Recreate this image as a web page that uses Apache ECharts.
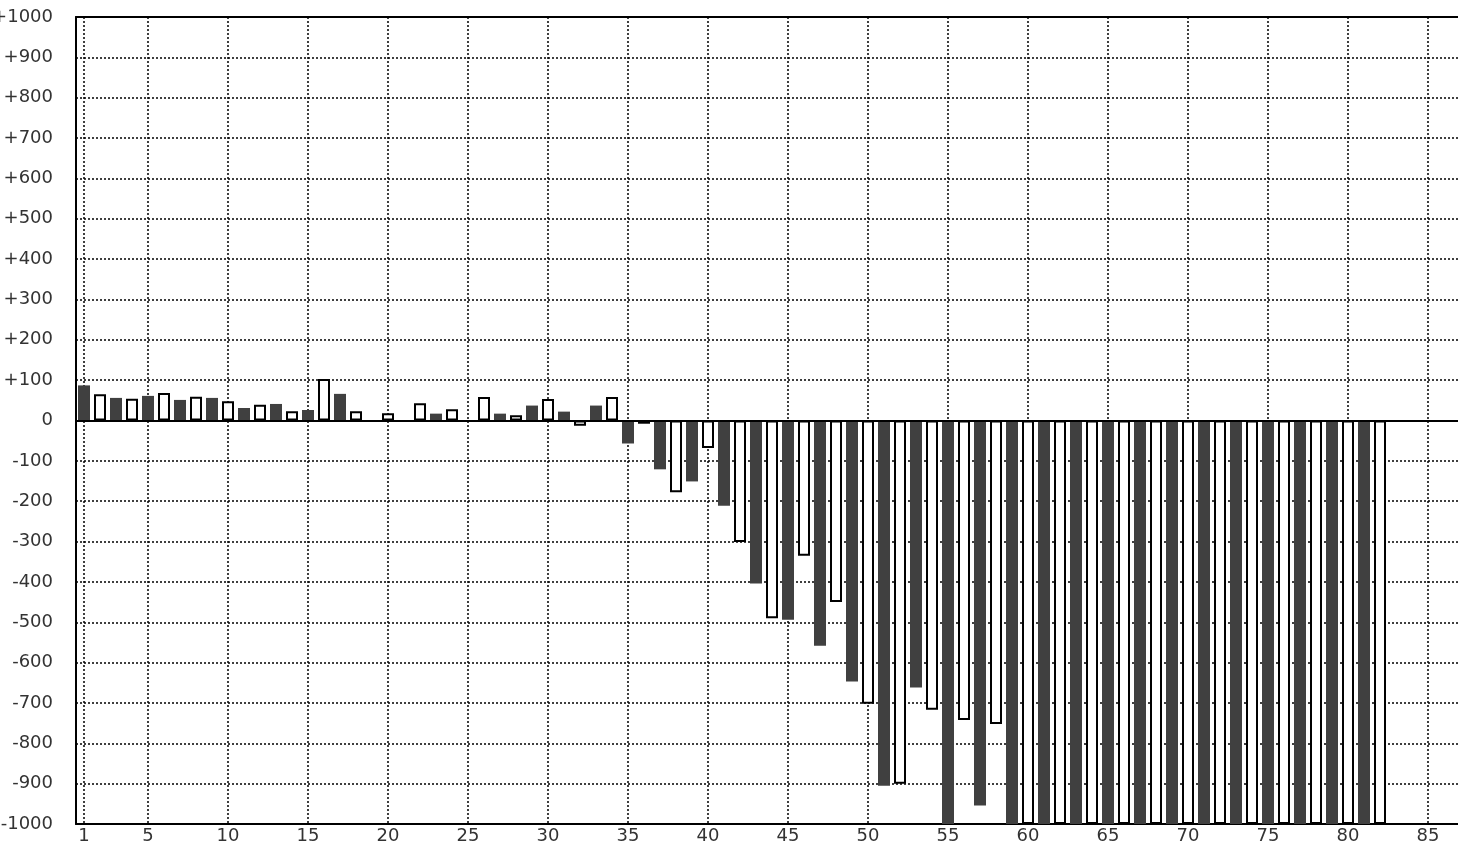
<!DOCTYPE html>
<html>
<head>
<meta charset="utf-8">
<style>
html,body{margin:0;padding:0;background:#fff;}
#chart{width:1458px;height:844px;}
</style>
<script src="https://cdn.jsdelivr.net/npm/echarts@6/dist/echarts.min.js"></script>
</head>
<body>
<div id="chart"></div>
<script>
// x positions are 1..82 (index + 1)
var values = [
  87, 65, 56, 54, 61, 68, 51, 59, 56, 48,
  31, 39, 41, 23, 26, 103, 66, 23, 0, 18,
  0, 43, 17, 28, 0, 58, 17, 13, 37, 53,
  22, -13, 37, 58, -57, -8, -121, -178, -151, -68,
  -211, -301, -404, -490, -494, -335, -558, -450, -647, -702,
  -905, -900, -662, -717, -1000, -742, -954, -752, -1000, -1000,
  -1000, -1000, -1000, -1000, -1000, -1000, -1000, -1000, -1000, -1000,
  -1000, -1000, -1000, -1000, -1000, -1000, -1000, -1000, -1000, -1000,
  -1000, -1000
];
var xTicks = [1, 5, 10, 15, 20, 25, 30, 35, 40, 45, 50, 55, 60, 65, 70, 75, 80, 85];

var FONT = 'DejaVu Sans';
var data = values.map(function (v, i) {
  var x = i + 1;
  var dark = (x % 2 === 1);
  return {
    value: [x, v],
    itemStyle: dark
      ? { color: '#404040', borderWidth: 0 }
      : { color: '#ffffff', borderColor: '#000000', borderWidth: 2 }
  };
});

var dotted = { show: true, lineStyle: { color: '#000', width: 1.5, type: [2, 2] } };

var chart = echarts.init(document.getElementById('chart'), null, { renderer: 'canvas' });
chart.setOption({
  animation: false,
  backgroundColor: '#fff',
  grid: { left: 76, right: 0, top: 17, bottom: 20, containLabel: false, outerBoundsMode: 'none' },
  xAxis: [{
    type: 'value',
    min: 0.5,
    max: 86.875,
    position: 'bottom',
    axisLine: { show: true, onZero: false, lineStyle: { color: '#000', width: 2 } },
    axisTick: { show: false, customValues: xTicks },
    axisLabel: { customValues: xTicks, color: '#333', fontFamily: FONT, fontSize: 18, margin: 3 },
    splitLine: dotted
  }, {
    type: 'value',
    min: 0.5,
    max: 86.875,
    position: 'top',
    axisLine: { show: true, onZero: false, lineStyle: { color: '#000', width: 2 } },
    axisTick: { show: false },
    axisLabel: { show: false },
    splitLine: { show: false }
  }],
  yAxis: {
    type: 'value',
    min: -1000,
    max: 1000,
    interval: 100,
    axisLine: { show: true, onZero: false, lineStyle: { color: '#000', width: 2 } },
    axisTick: { show: false },
    axisLabel: {
      color: '#333', fontFamily: FONT, fontSize: 18, margin: 23,
      formatter: function (v) { return v > 0 ? '+' + v : String(v); }
    },
    splitLine: dotted
  },
  series: [{
    type: 'bar',
    xAxisIndex: 0,
    barWidth: 12,
    data: data,
    markLine: {
      silent: true,
      symbol: 'none',
      label: { show: false },
      lineStyle: { color: '#000', width: 2, type: 'solid' },
      data: [{ yAxis: 0 }]
    }
  }]
});
</script>
</body>
</html>
